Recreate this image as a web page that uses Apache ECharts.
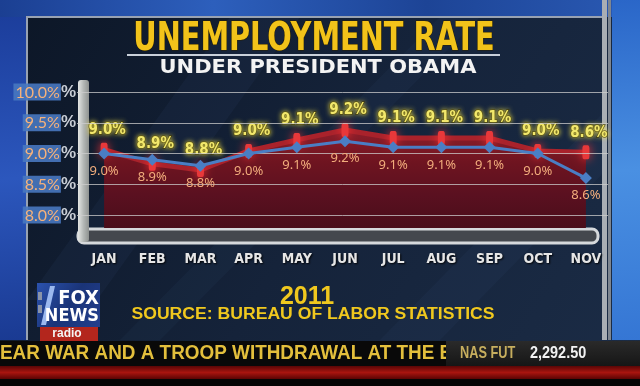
<!DOCTYPE html>
<html><head><meta charset="utf-8">
<script src="https://cdn.jsdelivr.net/npm/echarts@6/dist/echarts.min.js"></script>
<style>html,body{margin:0;padding:0;background:#101b2c}#c{width:640px;height:386px}</style>
</head><body><div id="c"></div>
<script>
// ---- data ----
const months = ['JAN','FEB','MAR','APR','MAY','JUN','JUL','AUG','SEP','OCT','NOV'];
// overlay (actual BLS rate, blue line)
const actualRate = [9.0, 8.9, 8.8, 9.0, 9.1, 9.2, 9.1, 9.1, 9.1, 9.0, 8.6];
// broadcast graphic: printed labels and plotted heights (in overlay axis units)
const foxLabels = ['9.0%','8.9%','8.8%','9.0%','9.1%','9.2%','9.1%','9.1%','9.1%','9.0%','8.6%'];
const foxPlotted = [9.06, 8.83, 8.73, 9.04, 9.22, 9.38, 9.25, 9.25, 9.25, 9.04, 9.02];
const yTicks = [8.0, 8.5, 9.0, 9.5, 10.0];
const texts = {
  title: 'UNEMPLOYMENT RATE',
  subtitle: 'UNDER PRESIDENT OBAMA',
  year: '2011',
  source: 'SOURCE: BUREAU OF LABOR STATISTICS',
  ticker: 'EAR WAR AND A TROOP WITHDRAWAL AT THE E',
  market: 'NAS FUT',
  marketValue: '2,292.50'
};

const NARROW = "'Liberation Sans Narrow','DejaVu Sans Condensed','Arial Narrow',sans-serif";
const WIDE = "'DejaVu Sans','Liberation Sans',sans-serif";
const G = echarts.graphic;
const lg = (x0,y0,x1,y1,stops)=>new G.LinearGradient(x0,y0,x1,y1,stops.map((c,i)=>({offset:i/(stops.length-1),color:c})));
const shadow = {shadowColor:'rgba(0,0,0,0.9)', shadowBlur:2, shadowOffsetX:1, shadowOffsetY:1};

const chart = echarts.init(document.getElementById('c'), null, {renderer:'canvas'});

const graphics = [
  // panel
  {type:'rect', z:-20, shape:{x:0,y:0,width:640,height:386}, style:{fill:lg(0,0,1,1,['#0c1626','#15233a','#1b2c46'])}},
  // diagonal faint stripes
  {type:'polygon', z:-19, shape:{points:[[27,300],[230,17],[300,17],[97,300]]}, style:{fill:'rgba(90,120,170,0.07)'}},
  {type:'polygon', z:-19, shape:{points:[[120,340],[440,17],[480,17],[160,340]]}, style:{fill:'rgba(90,120,170,0.06)'}},
  {type:'polygon', z:-19, shape:{points:[[380,340],[606,110],[606,170],[440,340]]}, style:{fill:'rgba(90,120,170,0.06)'}},
  // top blue stripe
  {type:'rect', z:-18, shape:{x:0,y:0,width:640,height:17}, style:{fill:lg(0,0,1,0,['#1b3f92','#2d5fbc','#1d4496','#2a5ab4'])}},
  // left blue
  {type:'rect', z:-18, shape:{x:0,y:17,width:27,height:323}, style:{fill:lg(0,0,1,1,['#1c3e9c','#2c57bd','#1a3a92'])}},
  // right blue
  {type:'rect', z:-18, shape:{x:612,y:0,width:28,height:340}, style:{fill:lg(0,0,1,1,['#2a66c8','#4a90e2','#3576d4'])}},
  // frame
  {type:'polyline', z:-17, shape:{points:[[27,340],[27,17],[606,17]]}, style:{stroke:'#98a2b2',lineWidth:2,fill:null}},
  {type:'rect', z:-17, shape:{x:602,y:0,width:5,height:340}, style:{fill:'#a9aeb4'}},
  {type:'rect', z:-17, shape:{x:608,y:0,width:3,height:340}, style:{fill:'#7e8690'}},
  // broadcast chart wall + floor
  {type:'rect', z:-16, shape:{x:78,y:229,width:520,height:14,r:6}, style:{fill:'#44484e',stroke:'#d6d9dc',lineWidth:3}},
  {type:'rect', z:-15, shape:{x:78,y:80,width:11,height:162,r:3}, style:{fill:lg(0,0,1,0,['#e4e6e4','#b4b8b6','#8e9290'])}},
  // title
  {type:'text', z:-10, x:314, y:40, scaleX:0.82, style:{x:0,y:0,text:texts.title,align:'center',verticalAlign:'middle',
     font:"bold 39px "+NARROW, fill:'#f2c31a', stroke:'#2a2000', lineWidth:1,
     shadowColor:'rgba(0,0,0,0.9)', shadowBlur:3, shadowOffsetX:1, shadowOffsetY:2}},
  {type:'line', z:-10, shape:{x1:127,y1:55,x2:500,y2:55}, style:{stroke:'#c9d0da',lineWidth:2}},
  {type:'text', z:-10, x:318, y:68, scaleX:1.05, style:Object.assign({x:0,y:0,text:texts.subtitle,align:'center',verticalAlign:'middle',
     font:"bold 20px "+WIDE, fill:'#f3f3f3'}, shadow)},
  // bottom texts
  {type:'text', z:-10, style:Object.assign({x:307,y:297,text:texts.year,align:'center',verticalAlign:'middle',
     font:"bold 25px 'Liberation Sans',sans-serif", fill:'#f0c81e'}, shadow)},
  {type:'text', z:-10, x:313, y:315, scaleX:1.1, style:Object.assign({x:0,y:0,text:texts.source,align:'center',verticalAlign:'middle',
     font:"bold 16px 'Liberation Sans',sans-serif", fill:'#f0c81e'}, shadow)},
  // logo
  {type:'rect', z:-10, shape:{x:37,y:283,width:63,height:44}, style:{fill:lg(0,0,1,1,['#2b52ae','#1a3478','#233f8e'])}},
  {type:'polygon', z:-9, shape:{points:[[50,286],[55,286],[46,325],[41,325]]}, style:{fill:'#9bb8ee'}},
  {type:'rect', z:-9, shape:{x:38,y:292,width:4,height:8}, style:{fill:'#8a94a8'}},
  {type:'rect', z:-9, shape:{x:38,y:305,width:4,height:8}, style:{fill:'#8a94a8'}},
  {type:'text', z:-9, style:{x:99,y:299,text:'FOX',align:'right',verticalAlign:'middle',font:"bold 20px "+NARROW,fill:'#ffffff'}},
  {type:'text', z:-9, style:{x:99,y:316,text:'NEWS',align:'right',verticalAlign:'middle',font:"bold 18px "+NARROW,fill:'#ffffff'}},
  {type:'rect', z:-10, shape:{x:40,y:327,width:58,height:14}, style:{fill:'#b3261d'}},
  {type:'text', z:-9, style:{x:67,y:334,text:'radio',align:'center',verticalAlign:'middle',font:"bold 12px 'Liberation Sans',sans-serif",fill:'#f4f4f4'}},
  // ticker
  {type:'rect', z:-10, shape:{x:0,y:341,width:640,height:25}, style:{fill:'#090909'}},
  {type:'text', z:-9, x:0, y:353, scaleX:0.9, style:{x:0,y:0,text:texts.ticker,align:'left',verticalAlign:'middle',font:"bold 21px 'Liberation Sans',sans-serif",fill:'#e3bf3c'}},
  {type:'rect', z:-8, shape:{x:446,y:341,width:194,height:25}, style:{fill:lg(0,0,0,1,['#2a2a2a','#161616'])}},
  {type:'text', z:-7, x:460, y:353, scaleX:0.75, style:{x:0,y:0,text:texts.market,align:'left',verticalAlign:'middle',font:"bold 17px 'Liberation Sans',sans-serif",fill:'#c7ae5e'}},
  {type:'text', z:-7, x:530, y:353, scaleX:0.85, style:{x:0,y:0,text:texts.marketValue,align:'left',verticalAlign:'middle',font:"bold 17px 'Liberation Sans',sans-serif",fill:'#f2f2f2'}},
  {type:'rect', z:-10, shape:{x:0,y:366,width:640,height:13}, style:{fill:lg(0,0,0,1,['#5a0606','#a8150f','#5a0404'])}},
  {type:'rect', z:-10, shape:{x:0,y:379,width:640,height:7}, style:{fill:'#050505'}}
];

const option = {
  animation: false,
  backgroundColor: '#101b2c',
  graphic: graphics,
  grid: [
    {left:77, right:32, top:92, bottom:171},
    {left:80, right:30, top:92, bottom:158},
    {left:80, right:30, top:92, bottom:171}
  ],
  xAxis: [
    {gridIndex:0, type:'category', data:months, show:false},
    {gridIndex:1, type:'category', data:months,
      axisLine:{show:false}, axisTick:{show:false},
      axisLabel:{margin:24, color:'#e6e6e6', fontSize:14, fontWeight:'bold', fontFamily:NARROW,
        textShadowColor:'rgba(0,0,0,0.9)', textShadowBlur:2, textShadowOffsetX:1, textShadowOffsetY:1}},
    {gridIndex:2, type:'category', data:months, show:false}
  ],
  yAxis: [
    {gridIndex:0, type:'value', min:yTicks[0], max:yTicks[yTicks.length-1], interval:0.5, z:5,
      axisLine:{show:false}, axisTick:{show:false},
      splitLine:{lineStyle:{color:'rgba(205,205,205,0.75)', width:1}},
      axisLabel:{margin:1,
        formatter:v=>'{box|'+v.toFixed(1)+'%}{pct|%}',
        rich:{
          box:{backgroundColor:'rgba(72,120,192,0.9)', color:'#f7b27b', fontSize:16, fontFamily:'Lato', padding:[1,1,0,2]},
          pct:{color:'#c9ced6', fontSize:17, fontWeight:'bold', fontFamily:"'Liberation Sans',sans-serif"}
        }}},
    {gridIndex:1, type:'value', min:7.785, max:10, show:false, splitLine:{show:false}},
    {gridIndex:2, type:'value', min:8, max:10, show:false, splitLine:{show:false}}
  ],
  series: [
    {
      name:'Broadcast graphic', type:'line', xAxisIndex:1, yAxisIndex:1, z:2,
      data: foxPlotted,
      lineStyle:{color:'#a9222b', width:5},
      areaStyle:{opacity:1, color:lg(0,0,0,1,['#8e1e2a','#6e1420','#5a1020','#4a0e1a'])},
      symbol:'roundRect', symbolSize:[7,14],
      itemStyle:{color:'#e8383a', shadowBlur:10, shadowColor:'#ff3030'},
      label:{show:true, position:'top', distance:5, offset:[3,0],
        formatter:p=>foxLabels[p.dataIndex],
        color:'#f2e86c', fontSize:15, fontWeight:'bold', fontFamily:NARROW,
        textBorderColor:'rgba(50,45,0,0.85)', textBorderWidth:1.5,
        textShadowColor:'rgba(255,235,70,0.7)', textShadowBlur:5}
    },
    {
      name:'Unemployment rate', type:'line', xAxisIndex:2, yAxisIndex:2, z:8,
      data: actualRate,
      lineStyle:{color:'#4a7ec4', width:3},
      symbol:'diamond', symbolSize:12,
      itemStyle:{color:'#4a7ec4'},
      label:{show:true, position:'bottom', distance:5,
        formatter:p=>p.value.toFixed(1)+'%',
        color:'#f2ad7c', fontSize:13, fontFamily:"'Noto Sans',sans-serif"}
    }
  ]
};
chart.setOption(option);
</script></body></html>
